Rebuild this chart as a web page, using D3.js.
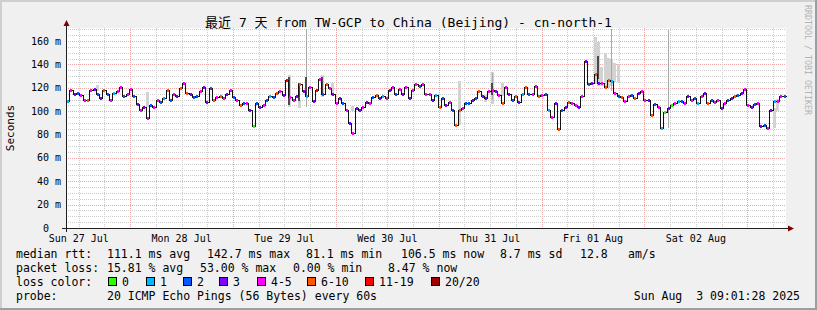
<!DOCTYPE html>
<html>
<head>
<meta charset="utf-8">
<script src="https://cdnjs.cloudflare.com/ajax/libs/d3/7.8.5/d3.min.js"></script>
<style>
body { margin: 0; background: #f0f0f0; }
svg text { font-family: "DejaVu Sans Mono", "Noto Sans CJK SC", monospace; white-space: pre; fill: #000; }
</style>
</head>
<body>
<div id="chart"></div>
<script>
// median rtt (ms), evenly spaced over the 7 days
var median = [
  109,118,115,116,114,110,110,118,119,115, 111,118,115,110,116,117,121,113,115,119,
  113,106,101,104,94,105,104,110,108,111, 118,110,115,113,120,124,116,115,112,113,
  117,121,108,120,110,112,113,111,115,118, 112,110,105,107,107,
  101,87,107,104,105,110,113,112,116,117, 114,127,112,110,113,123,117,113,121,109,
  118,128,115,123,120,115,107,111,107,101, 90,81,103,101,104,108,107,112,114,111,
  113,111,118,121,115,119,115,121,111,118, 123,122,123,115,
  115,110,114,104,111,105,108,101,88,101, 103,107,107,110,111,117,113,111,117,118,
  117,114,107,121,115,110,113,108,115,121, 115,115,122,113,114,115,101,95,107,85,
  101,104,108,107,105,104,113,143,123,124, 132,124,124,121,
  127,126,116,113,112,109,113,114,111,116, 117,110,110,97,106,104,86,99,103,105,
  107,109,109,107,113,110,111,107,113,116, 107,110,108,110,103,107,110,111,113,114,
  116,119,105,104,106,107,87,88,86,101, 109,109,113,113
];
// lost pings out of 20 for each median point
var loss = [
  1,4,3,2,5,4,7,4,3,2, 3,7,2,4,1,5,4,2,4,5, 2,3,4,3,5,2,4,4,2,1, 7,2,4,3,7,5,7,3,2,2,
  4,3,3,2,7,4,6,4,3,5, 2,4,7,2,4,
  3,0,2,3,4,2,1,2,7,5, 3,12,4,5,3,7,3,1,4,3, 12,4,2,7,5,3,4,3,2,5, 3,4,3,3,5,3,4,2,7,3,
  1,4,3,5,2,4,3,5,3,4, 5,2,4,5,
  4,3,1,7,2,3,5,2,7,8, 4,2,2,3,2,7,3,3,4,5, 3,4,7,4,3,2,7,3,1,7, 2,4,5,7,4,2,1,5,3,7,
  2,3,7,4,5,3,4,3,2,3, 7,3,4,7,
  7,1,4,2,7,5,4,2,7,3, 4,5,3,7,2,4,1,0,3,0, 5,1,2,4,3,5,2,1,4,3, 7,2,4,5,3,4,2,3,7,2,
  3,5,4,3,2,4,3,2,5,3, 1,4,5,2
];
// smoke (ping spread) at selected points, index into median
var smokeAt  = [9,   24,  67,  70,  77,  80,  86,  118, 126, 128, 131, 159, 160, 161, 162, 163, 164, 165, 166, 213, 214];
var smokeMin = [118, 104, 104, 103, 112, 114, 101, 88,  108, 107, 114, 124, 122, 122, 122, 120, 122, 126, 126, 86,  101];
var smokeMax = [123, 117, 131, 109, 131, 125, 105, 126, 114, 134, 125, 164, 160, 138, 150, 146, 144, 142, 141, 103, 111];
// dense middle of the smoke
var darkAt = [67,  70,  72,  77,  128, 160];
var darkLo = [106, 110, 113, 115, 115, 128];
var darkHi = [130, 125, 130, 130, 125, 148];
// single outlying pings
var outAt = [72,  128, 164, 181];
var outLo = [104, 110, 118, 86];
var outHi = [171, 133, 171, 170];

var yTicks = [0, 20, 40, 60, 80, 100, 120, 140, 160];
var lossLabels = ["0", "1", "2", "3", "4-5", "6-10", "11-19", "20/20"];
var lossUpper = [0, 1, 2, 3, 5, 10, 19, 20];
var lossColors = ["#26ff00", "#00b8ff", "#0059ff", "#7e00ff", "#ff00ff", "#ff5500", "#ff0000", "#a10000"];

var title = "最近 7 天 from TW-GCP to China (Beijing) - cn-north-1";
var rttLine = ["median rtt:", "111.1 ms avg", "142.7 ms max", "81.1 ms min", "106.5 ms now", "8.7 ms sd", "12.8", "am/s"];
var lossLine = ["packet loss:", "15.81 % avg", "53.00 % max", "0.00 % min", "8.47 % now"];
var probeLine = ["probe:", "20 ICMP Echo Pings (56 Bytes) every 60s"];
var stamp = "Sun Aug  3 09:01:28 2025";

function main() {
  var width = 817, height = 310;
  var left = 66, right = 786, top = 28, bottom = 228;
  var start = new Date(2025, 6, 27, 9, 1, 28),
      end = new Date(2025, 7, 3, 9, 1, 28);
  var yMax = 142.7 * 1.2;

  var x = d3.scaleTime().domain([start, end]).range([left, right]);
  var y = d3.scaleLinear().domain([0, yMax]).range([bottom + 0.5, top + 0.5]);

  var svg = d3.select("#chart").append("svg").attr("width", width).attr("height", height);

  // background + 3d frame
  svg.append("rect").attr("width", width).attr("height", height).attr("fill", "#f0f0f0");
  svg.append("rect").attr("x", 0).attr("y", 0).attr("width", width).attr("height", 2).attr("fill", "#cfcfcf");
  svg.append("rect").attr("x", 0).attr("y", 0).attr("width", 2).attr("height", height).attr("fill", "#cfcfcf");
  svg.append("rect").attr("x", 0).attr("y", height - 2).attr("width", width).attr("height", 2).attr("fill", "#9e9e9e");
  svg.append("rect").attr("x", width - 2).attr("y", 0).attr("width", 2).attr("height", height).attr("fill", "#9e9e9e");

  svg.append("rect").attr("x", left).attr("y", top).attr("width", right - left).attr("height", bottom - top).attr("fill", "#fff");

  // grid
  var grid = svg.append("g").attr("fill", "none").attr("stroke-width", 1).attr("stroke-dasharray", "1,1").attr("shape-rendering", "crispEdges");
  d3.range(5, yMax, 5).forEach(function (v) {
    var yy = Math.round(y(v) - 0.5) + 0.5;
    grid.append("line").attr("x1", left).attr("x2", right).attr("y1", yy).attr("y2", yy)
      .attr("stroke", v % 20 === 0 ? "#efa8a8" : "#cdcdcd");
  });
  d3.timeHour.every(6).range(start, end).forEach(function (t) {
    var xx = Math.round(x(t)) + 0.5;
    grid.append("line").attr("x1", xx).attr("x2", xx).attr("y1", top).attr("y2", bottom)
      .attr("stroke", t.getHours() === 0 ? "#efa8a8" : "#cdcdcd");
  });

  var n = median.length;
  var stepMs = (end - start) / n;
  var pts = median.map(function (v, i) {
    return { t: new Date(+start + i * stepMs), v: v, loss: loss[i] };
  });
  var stepPx = Math.round(x(pts[1].t) - x(pts[0].t));

  // smoke
  var smoke = svg.append("g").attr("shape-rendering", "crispEdges");
  function band(idx, lo, hi, w, dx, color) {
    smoke.append("rect").attr("x", Math.round(x(pts[idx].t)) + dx).attr("width", w)
      .attr("y", Math.round(y(hi))).attr("height", Math.max(1, Math.round(y(lo) - y(hi))))
      .attr("fill", color);
  }
  smokeAt.forEach(function (idx, k) { band(idx, smokeMin[k], smokeMax[k], stepPx, 0, "#d2d2d2"); });
  outAt.forEach(function (idx, k) { band(idx, outLo[k], outHi[k], 1, 1, "#a8a8a8"); });
  darkAt.forEach(function (idx, k) { band(idx, darkLo[k], darkHi[k], 2, 0, "#4a4a4a"); });

  // median line
  var line = d3.line()
    .x(function (d) { return Math.round(x(d.t)) + 0.5; })
    .y(function (d) { return Math.round(y(d.v) - 0.5) + 0.5; })
    .curve(d3.curveStepAfter);
  svg.append("path")
    .datum(pts.concat([{ t: end, v: median[n - 1] }]))
    .attr("d", line)
    .attr("fill", "none").attr("stroke", "#111").attr("stroke-width", 1)
    .attr("shape-rendering", "crispEdges");

  function lossColor(l) {
    for (var i = 0; i < lossUpper.length; i++) if (l <= lossUpper[i]) return lossColors[i];
    return lossColors[lossColors.length - 1];
  }
  svg.append("g").attr("shape-rendering", "crispEdges").selectAll("rect")
    .data(pts).enter().append("rect")
    .attr("x", function (d) { return Math.round(x(d.t)) + 1; })
    .attr("y", function (d) { return Math.round(y(d.v) - 0.5) - 1; })
    .attr("width", 2).attr("height", 3)
    .attr("fill", function (d) { return lossColor(d.loss); });

  // axes
  var axis = svg.append("g").attr("stroke", "#202020").attr("shape-rendering", "crispEdges");
  axis.append("line").attr("x1", left - 4).attr("x2", right + 4).attr("y1", bottom + 0.5).attr("y2", bottom + 0.5);
  axis.append("line").attr("x1", left + 0.5).attr("x2", left + 0.5).attr("y1", bottom + 4).attr("y2", top - 3);
  svg.append("path").attr("d", "M" + (right + 2) + "," + (bottom - 2.5) + "L" + (right + 8) + "," + (bottom + 0.5) + "L" + (right + 2) + "," + (bottom + 3.5) + "Z").attr("fill", "#7f0000");
  svg.append("path").attr("d", "M" + (left - 2.5) + "," + (top - 2) + "L" + (left + 0.5) + "," + (top - 8) + "L" + (left + 3.5) + "," + (top - 2) + "Z").attr("fill", "#7f0000");

  // y labels ("0" keeps the room of the missing unit)
  svg.append("g").selectAll("text").data(yTicks).enter().append("text")
    .attr("x", function (d) { return d === 0 ? 49 : 61; })
    .attr("y", function (d) { return Math.round(y(d)) + 3; })
    .attr("text-anchor", "end").style("font-size", "10px")
    .text(function (d) { return d === 0 ? "0" : d + " m"; });

  // x labels at noon
  var fmt = d3.timeFormat("%a %d %b");
  d3.timeDay.range(d3.timeDay.floor(start), end).forEach(function (day) {
    var noon = d3.timeHour.offset(day, 12);
    if (noon < start || noon > end) return;
    svg.append("text").attr("x", x(noon)).attr("y", 241.5)
      .attr("text-anchor", "middle").style("font-size", "10px").text(fmt(noon));
  });

  svg.append("text").attr("transform", "translate(14," + ((top + bottom) / 2) + ") rotate(-90)")
    .attr("text-anchor", "middle").style("font-size", "11px").text("Seconds");
  svg.append("text").attr("transform", "translate(805,5) rotate(90)")
    .style("font-size", "8.3px").style("fill", "#b4b4b4").text("RRDTOOL / TOBI OETIKER");

  svg.append("text").attr("x", width / 2).attr("y", 26.5).attr("text-anchor", "middle")
    .style("font-size", "13px").text(title);

  // legend
  var lg = svg.append("g").style("font-size", "11.5px");
  var rttX = [16, 107, 207, 306, 401, 500, 580, 628];
  rttLine.forEach(function (s, i) { lg.append("text").attr("x", rttX[i]).attr("y", 258).text(s); });
  var lossX = [16, 107, 200, 293, 388];
  lossLine.forEach(function (s, i) { lg.append("text").attr("x", lossX[i]).attr("y", 272).text(s); });
  lg.append("text").attr("x", 16).attr("y", 286).text("loss color:");
  var boxX = [108, 146, 183, 219, 257, 307, 365, 431];
  lossLabels.forEach(function (s, i) {
    lg.append("rect").attr("x", boxX[i] + 0.5).attr("y", 277.5).attr("width", 8).attr("height", 8)
      .attr("fill", lossColors[i]).attr("stroke", "#000").attr("stroke-width", 1);
    lg.append("text").attr("x", boxX[i] + 14).attr("y", 286).text(s);
  });
  var probeX = [16, 107];
  probeLine.forEach(function (s, i) { lg.append("text").attr("x", probeX[i]).attr("y", 300).text(s); });
  lg.append("text").attr("x", 800).attr("y", 300).attr("text-anchor", "end").text(stamp);
}

main();
</script>
</body>
</html>
